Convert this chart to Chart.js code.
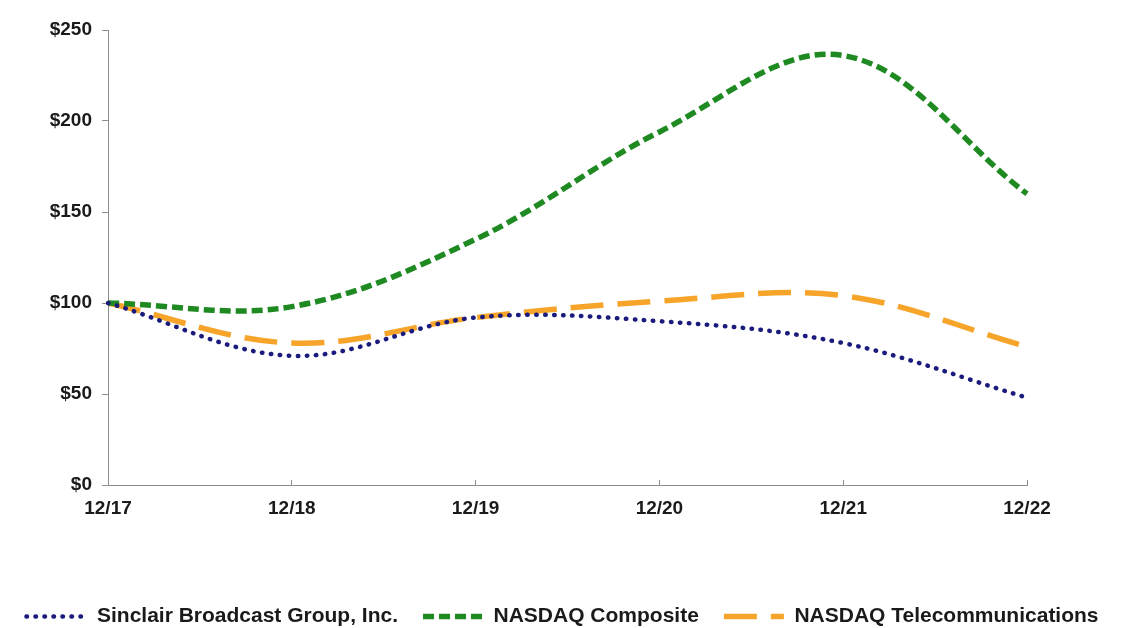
<!DOCTYPE html>
<html>
<head>
<meta charset="utf-8">
<script src="https://cdn.jsdelivr.net/npm/chart.js@4/dist/chart.umd.min.js"></script>
<style>
  html, body { margin: 0; padding: 0; background: #fff; }
  #wrap { width: 1125px; height: 628px; }
</style>
</head>
<body>
<div id="wrap"><canvas id="perfChart"></canvas></div>
<script>
// data
const years = ['12/17', '12/18', '12/19', '12/20', '12/21', '12/22'];
const sinclair = [100, 71, 92, 90, 78, 48];
const nasdaqComposite = [100, 98, 135, 194, 236, 160];
const nasdaqTelecom = [100, 78, 92, 101, 104, 76];
const yTicks = [0, 50, 100, 150, 200, 250];

const fontFamily = "'Liberation Sans', Arial, sans-serif";
const axisGray = '#8c8c8c';

var ctx = document.getElementById('perfChart').getContext('2d');
var perfChart = new Chart(ctx, {
    type: 'line',
    data: {
        labels: years,
        datasets: [{
            label: 'Sinclair Broadcast Group, Inc.',
            data: sinclair,
            borderColor: '#1b1b7d',
            borderWidth: 4.5,
            borderDash: [0.5, 8.5],
            borderCapStyle: 'round'
        }, {
            label: 'NASDAQ Composite',
            data: nasdaqComposite,
            borderColor: '#1f8a22',
            borderWidth: 5.5,
            borderDash: [11, 5],
            borderCapStyle: 'butt'
        }, {
            label: 'NASDAQ Telecommunications',
            data: nasdaqTelecom,
            borderColor: '#f6a52a',
            borderWidth: 5.5,
            borderDash: [33, 14],
            borderCapStyle: 'butt'
        }]
    },
    options: {
        responsive: true,
        maintainAspectRatio: false,
        animation: false,
        layout: { padding: { top: 30, left: 0, right: 0, bottom: 0 } },
        elements: {
            point: { radius: 0, hoverRadius: 0 },
            line: { tension: 0.36, fill: false }
        },
        scales: {
            x: {
                offset: false,
                grid: { drawOnChartArea: false, drawTicks: true, tickLength: -5, color: axisGray },
                border: { color: axisGray, width: 1 },
                ticks: {
                    padding: 17,
                    maxRotation: 0,
                    color: '#1a1a1a',
                    font: { family: fontFamily, size: 19, weight: 'bold' }
                },
                afterFit: function (scale) {
                    scale.height = 96;
                    scale.paddingLeft = 0;
                    scale.paddingRight = 98;
                }
            },
            y: {
                min: 0,
                max: 250,
                afterBuildTicks: function (scale) {
                    scale.ticks = yTicks.map(v => ({ value: v }));
                },
                grid: { drawOnChartArea: false, drawTicks: true, tickLength: 6, color: axisGray },
                border: { color: axisGray, width: 1 },
                ticks: {
                    padding: 10,
                    color: '#1a1a1a',
                    font: { family: fontFamily, size: 19, weight: 'bold' },
                    callback: function (value) { return '$' + value; }
                },
                afterFit: function (scale) {
                    scale.width = 108;
                }
            }
        },
        plugins: {
            tooltip: { enabled: false },
            legend: {
                position: 'bottom',
                maxHeight: 47,
                labels: {
                    usePointStyle: true,
                    pointStyle: 'line',
                    pointStyleWidth: 60,
                    padding: 25,
                    color: '#1a1a1a',
                    font: { family: fontFamily, size: 21, weight: 'bold' },
                    // keep the dash pattern of each line in the legend sample
                    generateLabels: function (chart) {
                        const items = Chart.defaults.plugins.legend.labels.generateLabels(chart);
                        items.forEach(function (item, i) {
                            const ds = chart.data.datasets[i];
                            item.lineDash = ds.borderDash;
                            item.lineCap = ds.borderCapStyle;
                            item.lineWidth = ds.borderWidth;
                            item.strokeStyle = ds.borderColor;
                        });
                        return items;
                    }
                }
            }
        }
    }
});
</script>
</body>
</html>
